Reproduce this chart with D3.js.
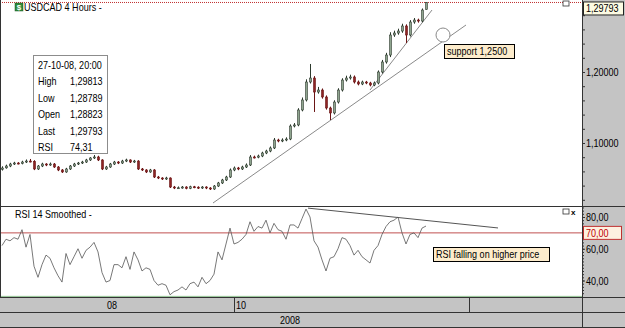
<!DOCTYPE html>
<html lang="en">
<head>
<meta charset="utf-8">
<title>USDCAD 4 Hours</title>
<script src="https://cdnjs.cloudflare.com/ajax/libs/d3/7.8.5/d3.min.js"></script>
<style>
body { margin: 0; background: #fff; }
svg { display: block; }
text { font-family: "Liberation Sans", Arial, sans-serif; }
</style>
</head>
<body>
<script>

// 4 hour bars, USDCAD, Sept - 27 Oct 2008
var opens = [1.0630,1.0650,1.0676,1.0704,1.0718,1.0712,1.0732,1.0746,1.0741,1.0634,
  1.0676,1.0704,1.0690,1.0704,1.0662,1.0620,1.0592,1.0634,1.0676,1.0704,
  1.0718,1.0732,1.0761,1.0789,1.0803,1.0761,1.0634,1.0662,1.0704,1.0732,
  1.0718,1.0746,1.0761,1.0732,1.0746,1.0634,1.0620,1.0592,1.0620,1.0521,
  1.0507,1.0493,1.0507,1.0380,1.0366,1.0370,1.0380,1.0362,1.0384,1.0378,
  1.0366,1.0380,1.0366,1.0352,1.0394,1.0437,1.0479,1.0521,1.0620,1.0648,
  1.0634,1.0662,1.0690,1.0803,1.0800,1.0817,1.0859,1.0887,1.0930,1.1042,
  1.1028,1.1042,1.1056,1.1239,1.1254,1.1465,1.1606,1.1859,1.1915,1.1718,
  1.1746,1.1648,1.1493,1.1423,1.1577,1.1746,1.1887,1.1915,1.1930,1.1859,
  1.1831,1.1859,1.1845,1.1817,1.1845,1.2000,1.2141,1.2239,1.2521,1.2549,
  1.2577,1.2648,1.2521,1.2704,1.2732,1.2718,1.28823];
var highs = [1.0672,1.0695,1.0721,1.0735,1.0730,1.0750,1.0768,1.0775,1.0758,1.0690,
  1.0722,1.0716,1.0725,1.0718,1.0675,1.0633,1.0650,1.0690,1.0720,1.0733,
  1.0749,1.0777,1.0801,1.0831,1.0820,1.0772,1.0678,1.0719,1.0748,1.0745,
  1.0763,1.0779,1.0770,1.0762,1.0758,1.0648,1.0631,1.0635,1.0632,1.0536,
  1.0518,1.0524,1.0516,1.0395,1.0388,1.0394,1.0391,1.0398,1.0396,1.0390,
  1.0393,1.0391,1.0378,1.0408,1.0452,1.0495,1.0538,1.0641,1.0669,1.0663,
  1.0680,1.0712,1.0830,1.0822,1.0836,1.0877,1.0905,1.0951,1.1070,1.1060,
  1.1066,1.1080,1.1262,1.1281,1.1490,1.1641,1.1897,1.2113,1.1942,1.1790,
  1.1768,1.1670,1.1512,1.1602,1.1771,1.1912,1.1948,1.1962,1.1951,1.1880,
  1.1878,1.1875,1.1862,1.1866,1.2022,1.2170,1.2270,1.2560,1.2582,1.2610,
  1.2680,1.2671,1.2731,1.2760,1.2751,1.2895,1.29813];
var lows = [1.0612,1.0638,1.0660,1.0690,1.0698,1.0699,1.0718,1.0727,1.0618,1.0620,
  1.0661,1.0674,1.0678,1.0649,1.0604,1.0578,1.0580,1.0620,1.0662,1.0690,
  1.0704,1.0719,1.0747,1.0775,1.0746,1.0619,1.0621,1.0650,1.0690,1.0703,
  1.0705,1.0731,1.0718,1.0720,1.0620,1.0606,1.0577,1.0580,1.0507,1.0492,
  1.0479,1.0480,1.0366,1.0351,1.0352,1.0356,1.0348,1.0350,1.0363,1.0352,
  1.0353,1.0350,1.0338,1.0340,1.0381,1.0423,1.0465,1.0508,1.0603,1.0617,
  1.0620,1.0648,1.0676,1.0782,1.0785,1.0801,1.0843,1.0870,1.0915,1.1010,
  1.1012,1.1025,1.1040,1.1220,1.1236,1.1446,1.1585,1.1838,1.1437,1.1695,
  1.1625,1.1470,1.1324,1.1402,1.1556,1.1725,1.1866,1.1893,1.1838,1.1812,
  1.1815,1.1828,1.1798,1.1800,1.1826,1.1978,1.2118,1.2210,1.2495,1.2525,
  1.2552,1.2408,1.2500,1.2680,1.2695,1.2700,1.28789];
var closes = [1.0648,1.0676,1.0704,1.0718,1.0712,1.0732,1.0746,1.0741,1.0634,1.0676,
  1.0704,1.0690,1.0704,1.0662,1.0620,1.0592,1.0634,1.0676,1.0704,1.0718,
  1.0732,1.0761,1.0789,1.0803,1.0761,1.0634,1.0662,1.0704,1.0732,1.0718,
  1.0746,1.0761,1.0732,1.0746,1.0634,1.0620,1.0592,1.0620,1.0521,1.0507,
  1.0493,1.0507,1.0380,1.0366,1.0370,1.0380,1.0362,1.0384,1.0378,1.0366,
  1.0380,1.0366,1.0352,1.0394,1.0437,1.0479,1.0521,1.0620,1.0648,1.0634,
  1.0662,1.0690,1.0803,1.0800,1.0817,1.0859,1.0887,1.0930,1.1042,1.1028,
  1.1042,1.1056,1.1239,1.1254,1.1465,1.1606,1.1859,1.1915,1.1718,1.1746,
  1.1648,1.1493,1.1423,1.1577,1.1746,1.1887,1.1915,1.1930,1.1859,1.1831,
  1.1859,1.1845,1.1817,1.1845,1.2000,1.2141,1.2239,1.2521,1.2549,1.2577,
  1.2648,1.2521,1.2704,1.2732,1.2718,1.2873,1.29793];
var rsi = [62,66,65,67,66,72,61,69,49,42,
  50,56,54,48,43,39,57,50,55,60,
  54,59,61,64,58,45,39,40,50,50,
  48,55,47,58,53,46,48,47,40,37,
  38,37,31,33,34,36,34,38,39,36,
  42,38,40,44,58,53,63,73,63,64,
  66,69,77,71,74,73,78,70,76,72,
  71,66,75,75,73,79,85,80,65,61,
  53,46,54,55,60,67,66,62,56,59,
  55,53,51,59,62,69,74,77,78,80,
  70,63,69,70,67,73,74.31];

var priceMajor = [1.1, 1.2];
var priceMinor = [1.02,1.04,1.06,1.08,1.12,1.14,1.16,1.18,1.22,1.24,1.26,1.28];
var rsiMajor = [40, 60, 80];
var rsiMinor = d3.range(32, 87, 2);
var rsiLevels = [70, 30];
var monthTicks = [58, 116.75];
var monthLabels = ["08", "10"];
var monthLabelIdx = [27.5, 58.5];
var yearLabel = "2008";
var infoRows = [["27-10-08, 20:00", ""], ["High", "1,29813"], ["Low", "1,28789"],
  ["Open", "1,28823"], ["Last", "1,29793"], ["RSI", "74,31"]];
// hand drawn annotations (bar index, value)
var supportLine = [[52.75, 1.0155], [116, 1.2662]];
var steepLine = [[92, 1.1746], [107.5, 1.2873]];
var circleAt = [110.25, 1.2521];
var rsiTrend = [[76.5, 85.6], [124, 73.1]];

var W = 625, H = 328, plotR = 582;
var grey = "#c4c4c4";
var fmt = d3.formatLocale({decimal: ",", thousands: ".", grouping: [3], currency: ["", ""]});
var f5 = fmt.format(".5f"), f2 = fmt.format(".2f");

var x = d3.scaleLinear().domain([0, 145]).range([2, plotR]);
var y = d3.scaleLinear().domain([1.0, 1.3]).range([214, 1]);
var yr = d3.scaleLinear().domain([40, 80]).range([280.5, 217]);

var svg = d3.select("body").append("svg").attr("width", W).attr("height", H);

svg.append("rect").attr("width", W).attr("height", H).attr("fill", "#fff");
svg.append("rect").attr("x", plotR).attr("y", 0).attr("width", W - plotR).attr("height", H).attr("fill", grey);
svg.append("rect").attr("x", 0).attr("y", 298).attr("width", plotR).attr("height", 30).attr("fill", grey);

var defs = svg.append("defs");
defs.append("clipPath").attr("id", "cm").append("rect").attr("x", 0).attr("y", 0).attr("width", plotR).attr("height", 206);
defs.append("clipPath").attr("id", "cr").append("rect").attr("x", 0).attr("y", 207).attr("width", plotR).attr("height", 90);

// main panel
var main = svg.append("g").attr("clip-path", "url(#cm)");

main.append("line")
    .attr("x1", 0).attr("x2", plotR)
    .attr("y1", y(closes[closes.length - 1])).attr("y2", y(closes[closes.length - 1]))
    .attr("stroke", "#c03030").attr("stroke-dasharray", "1,1");

var line = d3.line().x(function(d) { return x(d[0]); }).y(function(d) { return y(d[1]); });
main.append("path").attr("d", line(supportLine)).attr("stroke", "#8a8a8a").attr("fill", "none");
main.append("path").attr("d", line(steepLine)).attr("stroke", "#8a8a8a").attr("fill", "none");

var bars = main.selectAll(".bar").data(closes).enter().append("g").attr("class", "bar");
bars.append("line")
    .attr("x1", function(d, i) { return Math.round(x(i)) + 0.5; })
    .attr("x2", function(d, i) { return Math.round(x(i)) + 0.5; })
    .attr("y1", function(d, i) { return y(highs[i]); })
    .attr("y2", function(d, i) { return y(lows[i]); })
    .attr("stroke", function(d, i) { return d >= opens[i] ? "#2d3a2d" : "#6a1515"; });
bars.append("rect")
    .attr("x", function(d, i) { return Math.round(x(i)) - 0.5; })
    .attr("width", 2)
    .attr("y", function(d, i) { return y(Math.max(d, opens[i])); })
    .attr("height", function(d, i) { return Math.max(1, Math.abs(y(d) - y(opens[i]))); })
    .attr("fill", function(d, i) { return d >= opens[i] ? "#8fa58f" : "#8e2424"; })
    .attr("stroke", function(d, i) { return d >= opens[i] ? "#2d3a2d" : "#6a1515"; })
    .attr("stroke-width", 0.6);

main.append("circle").attr("cx", x(circleAt[0])).attr("cy", y(circleAt[1])).attr("r", 7)
    .attr("fill", "#fff").attr("stroke", "#8a8a8a");

// title
svg.append("rect").attr("x", 15).attr("y", 3).attr("width", 8).attr("height", 8).attr("fill", "#2f8a3a").attr("stroke", "#1c5a24").attr("stroke-width", 0.5);
svg.append("text").attr("class", "icon").attr("x", 19).attr("y", 10).attr("text-anchor", "middle").attr("font-size", 8).attr("font-weight", "bold").attr("fill", "#fff").text("$");
svg.append("text").attr("x", 24).attr("y", 11).attr("font-size", 11).text("USDCAD 4 Hours  -");
svg.append("rect").attr("x", 563).attr("y", 1).attr("width", 6).attr("height", 5).attr("fill", "#fff").attr("stroke", "#333").attr("stroke-width", 0.8);

// info box
var info = svg.append("g").attr("transform", "translate(33,55)");
info.append("rect").attr("x", 0.5).attr("y", 0.5).attr("width", 74).attr("height", 98).attr("fill", "#fff").attr("stroke", "#8c8c8c");
info.selectAll(".lbl").data(infoRows).enter().append("text")
    .attr("x", 5).attr("y", function(d, i) { return 14 + i * 16.4; })
    .attr("font-size", 11).text(function(d) { return d[0]; });
info.selectAll(".val").data(infoRows).enter().append("text")
    .attr("x", 37).attr("y", function(d, i) { return 14 + i * 16.4; })
    .attr("font-size", 11).text(function(d) { return d[1]; });

// support label
function label(g, xx, yy, w, h, txt, col) {
  g.append("rect").attr("x", xx + 0.5).attr("y", yy + 0.5).attr("width", w).attr("height", h)
      .attr("fill", "#fdeccc").attr("stroke", col || "#000");
  g.append("text").attr("x", xx + 3).attr("y", yy + h - 3).attr("font-size", 11).attr("fill", col || "#000").text(txt);
}
label(svg, 444, 44, 70, 14, "support 1,2500");

// RSI panel
var rp = svg.append("g").attr("clip-path", "url(#cr)");
rp.append("line").attr("x1", 0).attr("x2", plotR).attr("y1", yr(70)).attr("y2", yr(70)).attr("stroke", "#c05050");
rp.append("line").attr("x1", 0).attr("x2", plotR).attr("y1", yr(30)).attr("y2", yr(30)).attr("stroke", "#8ec08e");
var rline = d3.line().x(function(d, i) { return x(i); }).y(function(d) { return yr(d); });
rp.append("path").attr("d", rline(rsi)).attr("fill", "none").attr("stroke", "#555").attr("stroke-width", 0.8);
var tline = d3.line().x(function(d) { return x(d[0]); }).y(function(d) { return yr(d[1]); });
rp.append("path").attr("d", tline(rsiTrend)).attr("fill", "none").attr("stroke", "#555");
svg.append("text").attr("x", 15).attr("y", 218).attr("font-size", 11).text("RSI 14 Smoothed  -");
label(svg, 433, 247, 116, 14, "RSI falling on higher price");
svg.append("rect").attr("x", 563).attr("y", 209).attr("width", 6).attr("height", 5).attr("fill", "#fff").attr("stroke", "#333").attr("stroke-width", 0.8);
svg.append("text").attr("class", "icon").attr("x", 571).attr("y", 215).attr("font-size", 8).attr("font-weight", "bold").text("x");

// right axes
var ax = svg.append("g").attr("transform", "translate(" + plotR + ",0)");
ax.append("g").call(d3.axisRight(y).tickValues(priceMinor).tickSize(3).tickFormat(""));
ax.append("g").call(d3.axisRight(y).tickValues(priceMajor).tickSize(3).tickPadding(1).tickFormat(f5));
ax.append("g").call(d3.axisRight(yr).tickValues(rsiMinor).tickSize(2).tickFormat(""));
ax.append("g").call(d3.axisRight(yr).tickValues(rsiMajor).tickSize(3).tickPadding(1).tickFormat(f2));
ax.selectAll(".domain").remove();
ax.selectAll("text").attr("font-size", 11).attr("fill", "#000")
    .style("font-family", "'Liberation Sans',Arial,sans-serif");
ax.selectAll("line").attr("stroke", "#333");

// value boxes
var last = closes[closes.length - 1];
ax.append("rect").attr("x", 1.5).attr("y", y(last) - 0.5).attr("width", 40).attr("height", 13).attr("fill", "#fdfbe3").attr("stroke", "#222");
ax.append("text").attr("x", 4).attr("y", y(last) + 9.5).attr("font-size", 11).text(f5(last));
ax.append("rect").attr("x", 1.5).attr("y", yr(rsiLevels[0]) - 6.5).attr("width", 38).attr("height", 13).attr("fill", "#fdf0e0").attr("stroke", "#c03030");
ax.append("text").attr("x", 4).attr("y", yr(rsiLevels[0]) + 4).attr("font-size", 11).attr("fill", "#c00000").text(f2(rsiLevels[0]));

// time axis
var tx = svg.append("g");
tx.selectAll(".mt").data(monthTicks).enter().append("line")
    .attr("x1", function(d) { return Math.round(x(d)) + 0.5; }).attr("x2", function(d) { return Math.round(x(d)) + 0.5; })
    .attr("y1", 298).attr("y2", 312).attr("stroke", "#333");
tx.selectAll(".ml").data(monthLabels).enter().append("text")
    .attr("x", function(d, i) { return x(monthLabelIdx[i]); })
    .attr("y", 309).attr("font-size", 11)
    .attr("text-anchor", function(d, i) { return i === 0 ? "middle" : "start"; })
    .text(function(d) { return d; });
tx.append("text").attr("x", 290).attr("y", 324).attr("text-anchor", "middle").attr("font-size", 11).text(yearLabel);

// frame lines
var frame = [[0, 206.5, W, 206.5], [0, 297.5, W, 297.5], [0, 312.5, W, 312.5], [0, 327.5, W, 327.5],
  [plotR + 0.5, 0, plotR + 0.5, H], [0.5, 0, 0.5, 298]];
svg.selectAll(".fr").data(frame).enter().append("line")
    .attr("x1", function(d) { return d[0]; }).attr("y1", function(d) { return d[1]; })
    .attr("x2", function(d) { return d[2]; }).attr("y2", function(d) { return d[3]; })
    .attr("stroke", "#333");

// the original uses a narrow face: squeeze every text to about 82% width
svg.selectAll("text").filter(function() { return this.getAttribute("class") !== "icon"; })
    .each(function() {
      var len = this.getComputedTextLength();
      if (len > 0) d3.select(this).attr("textLength", len * 0.82).attr("lengthAdjust", "spacingAndGlyphs");
    });

</script>
</body>
</html>
